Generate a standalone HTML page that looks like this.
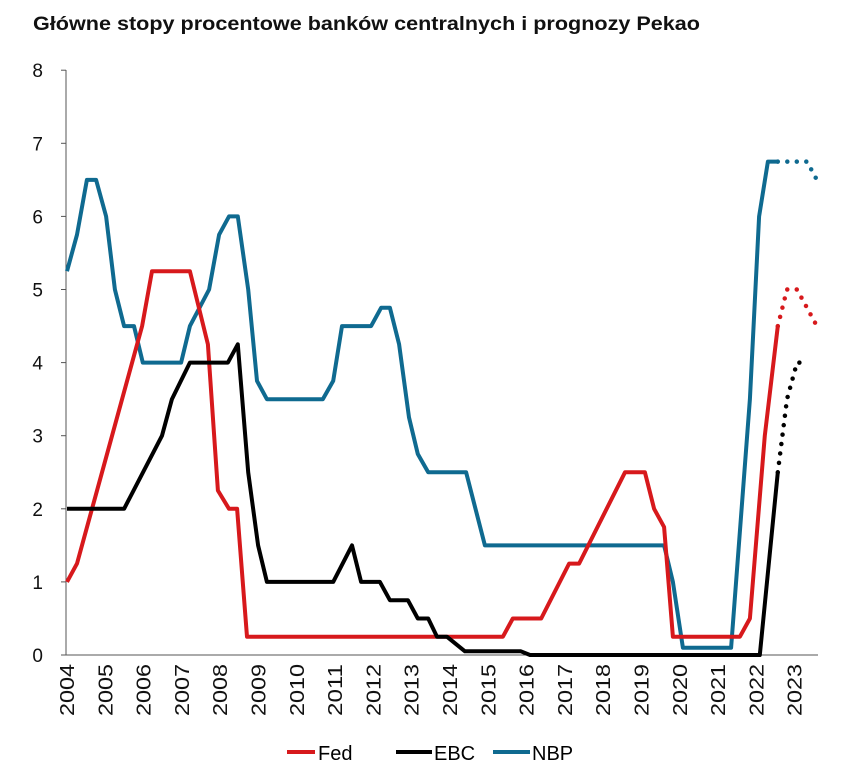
<!DOCTYPE html>
<html><head><meta charset="utf-8"><style>
body{margin:0;background:#fff;font-family:"Liberation Sans",sans-serif}
svg text{font-family:"Liberation Sans",sans-serif}
</style></head><body>
<svg width="863" height="770" xmlns="http://www.w3.org/2000/svg">
<text x="33" y="30" font-size="19" font-weight="bold" fill="#111" textLength="667" lengthAdjust="spacingAndGlyphs">Główne stopy procentowe banków centralnych i prognozy Pekao</text>
<g id="axes"></g>
<g id="series"></g>
<g>
<line x1="287" y1="752" x2="315" y2="752" stroke="#d7191c" stroke-width="4"/>
<text x="318" y="760" font-size="20">Fed</text>
<line x1="396" y1="752" x2="432" y2="752" stroke="#000" stroke-width="4"/>
<text x="434" y="760" font-size="20">EBC</text>
<line x1="493" y1="752" x2="530" y2="752" stroke="#0f6a90" stroke-width="4"/>
<text x="532" y="760" font-size="20">NBP</text>
</g>
</svg>
<script>
const yTicks=[0,1,2,3,4,5,6,7,8];
const years=[2004,2005,2006,2007,2008,2009,2010,2011,2012,2013,2014,2015,2016,2017,2018,2019,2020,2021,2022,2023];
const fedT=[0,0.26,1.96,2.22,3.21,3.68,3.94,4.23,4.44,4.70,11.38,11.64,12.38,13.11,13.37,14.57,15.09,15.33,15.59,15.82,17.57,17.83,18.22,18.56];
const fedV=[1.0,1.25,4.5,5.25,5.25,4.25,2.25,2.0,2.0,0.25,0.25,0.5,0.5,1.25,1.25,2.5,2.5,2.0,1.75,0.25,0.25,0.5,3.0,4.5];
const fedFT=[18.56,18.80,19.06,19.32,19.58];
const fedFV=[4.5,5.0,5.0,4.75,4.5];
const ebcT=[0,1.49,2.48,2.74,3.21,4.20,4.46,4.73,4.99,5.22,6.95,7.44,7.68,8.17,8.43,8.90,9.16,9.43,9.66,9.92,10.39,11.85,12.09,18.09,18.56];
const ebcV=[2.0,2.0,3.0,3.5,4.0,4.0,4.25,2.5,1.5,1.0,1.0,1.5,1.0,1.0,0.75,0.75,0.5,0.5,0.25,0.25,0.05,0.05,0.0,0.0,2.5];
const ebcFT=[18.56,18.80,19.06,19.32];
const ebcFV=[2.5,3.5,4.0,4.0];
const nbpT=[0,0.26,0.52,0.76,1.02,1.25,1.49,1.75,1.98,2.98,3.21,3.71,3.97,4.23,4.46,4.73,4.96,5.22,6.68,6.95,7.18,7.94,8.20,8.43,8.67,8.93,9.16,9.43,10.42,10.91,15.59,15.82,16.08,17.34,17.83,18.07,18.30,18.56];
const nbpV=[5.25,5.75,6.5,6.5,6.0,5.0,4.5,4.5,4.0,4.0,4.5,5.0,5.75,6.0,6.0,5.0,3.75,3.5,3.5,3.75,4.5,4.5,4.75,4.75,4.25,3.25,2.75,2.5,2.5,1.5,1.5,1.0,0.1,0.1,3.5,6.0,6.75,6.75];
const nbpFT=[18.56,19.32,19.58];
const nbpFV=[6.75,6.75,6.5];

const NS="http://www.w3.org/2000/svg";
const X=t=>67+38.3*t;
const Y=v=>655-73.1*v;
function mk(tag,attrs,parent){const e=document.createElementNS(NS,tag);for(const k in attrs)e.setAttribute(k,attrs[k]);parent.appendChild(e);return e;}
const ax=document.getElementById('axes');
let a=mk('line',{x1:66,y1:70,x2:66,y2:655,stroke:'#555','stroke-width':1},ax);


a=mk('line',{x1:66,y1:655,x2:818,y2:655,stroke:'#555','stroke-width':1},ax);


yTicks.forEach(v=>{
  const tk=mk('line',{x1:61,y1:Y(v),x2:66,y2:Y(v),stroke:'#555'},ax);
  
  
  const t=mk('text',{x:43,y:Y(v)+7,'font-size':19,'text-anchor':'end',fill:'#111'},ax);
  t.textContent=v;
  
  
});
years.forEach((yr,i)=>{
  const x=X(i)+7;
  const t=mk('text',{x:0,y:0,'font-size':20,'text-anchor':'end',fill:'#111',transform:`translate(${x},664) rotate(-90)`,textLength:52,lengthAdjust:'spacingAndGlyphs'},ax);
  t.textContent=yr;
  
  
});
const sg=document.getElementById('series');
function pts(T,V){return T.map((t,i)=>X(t).toFixed(1)+','+Y(V[i]).toFixed(1)).join(' ');}
function line(T,V,c,name){
  const p=mk('polyline',{points:pts(T,V),fill:'none',stroke:c,'stroke-width':4,'stroke-linejoin':'round'},sg);
  
  
}
function dots(T,V,c,name){
  const p=mk('polyline',{points:pts(T,V),fill:'none',stroke:c,'stroke-width':4.5,'stroke-linecap':'round','stroke-dasharray':'0 9.5'},sg);
  
  
}
line(nbpT,nbpV,'#0f6a90','nbp-line');
line(fedT,fedV,'#d7191c','fed-line');
line(ebcT,ebcV,'#000','ebc-line');
dots(nbpFT,nbpFV,'#0f6a90','nbp-forecast');
dots(fedFT,fedFV,'#d7191c','fed-forecast');
dots(ebcFT,ebcFV,'#000','ebc-forecast');
</script>
</body></html>
